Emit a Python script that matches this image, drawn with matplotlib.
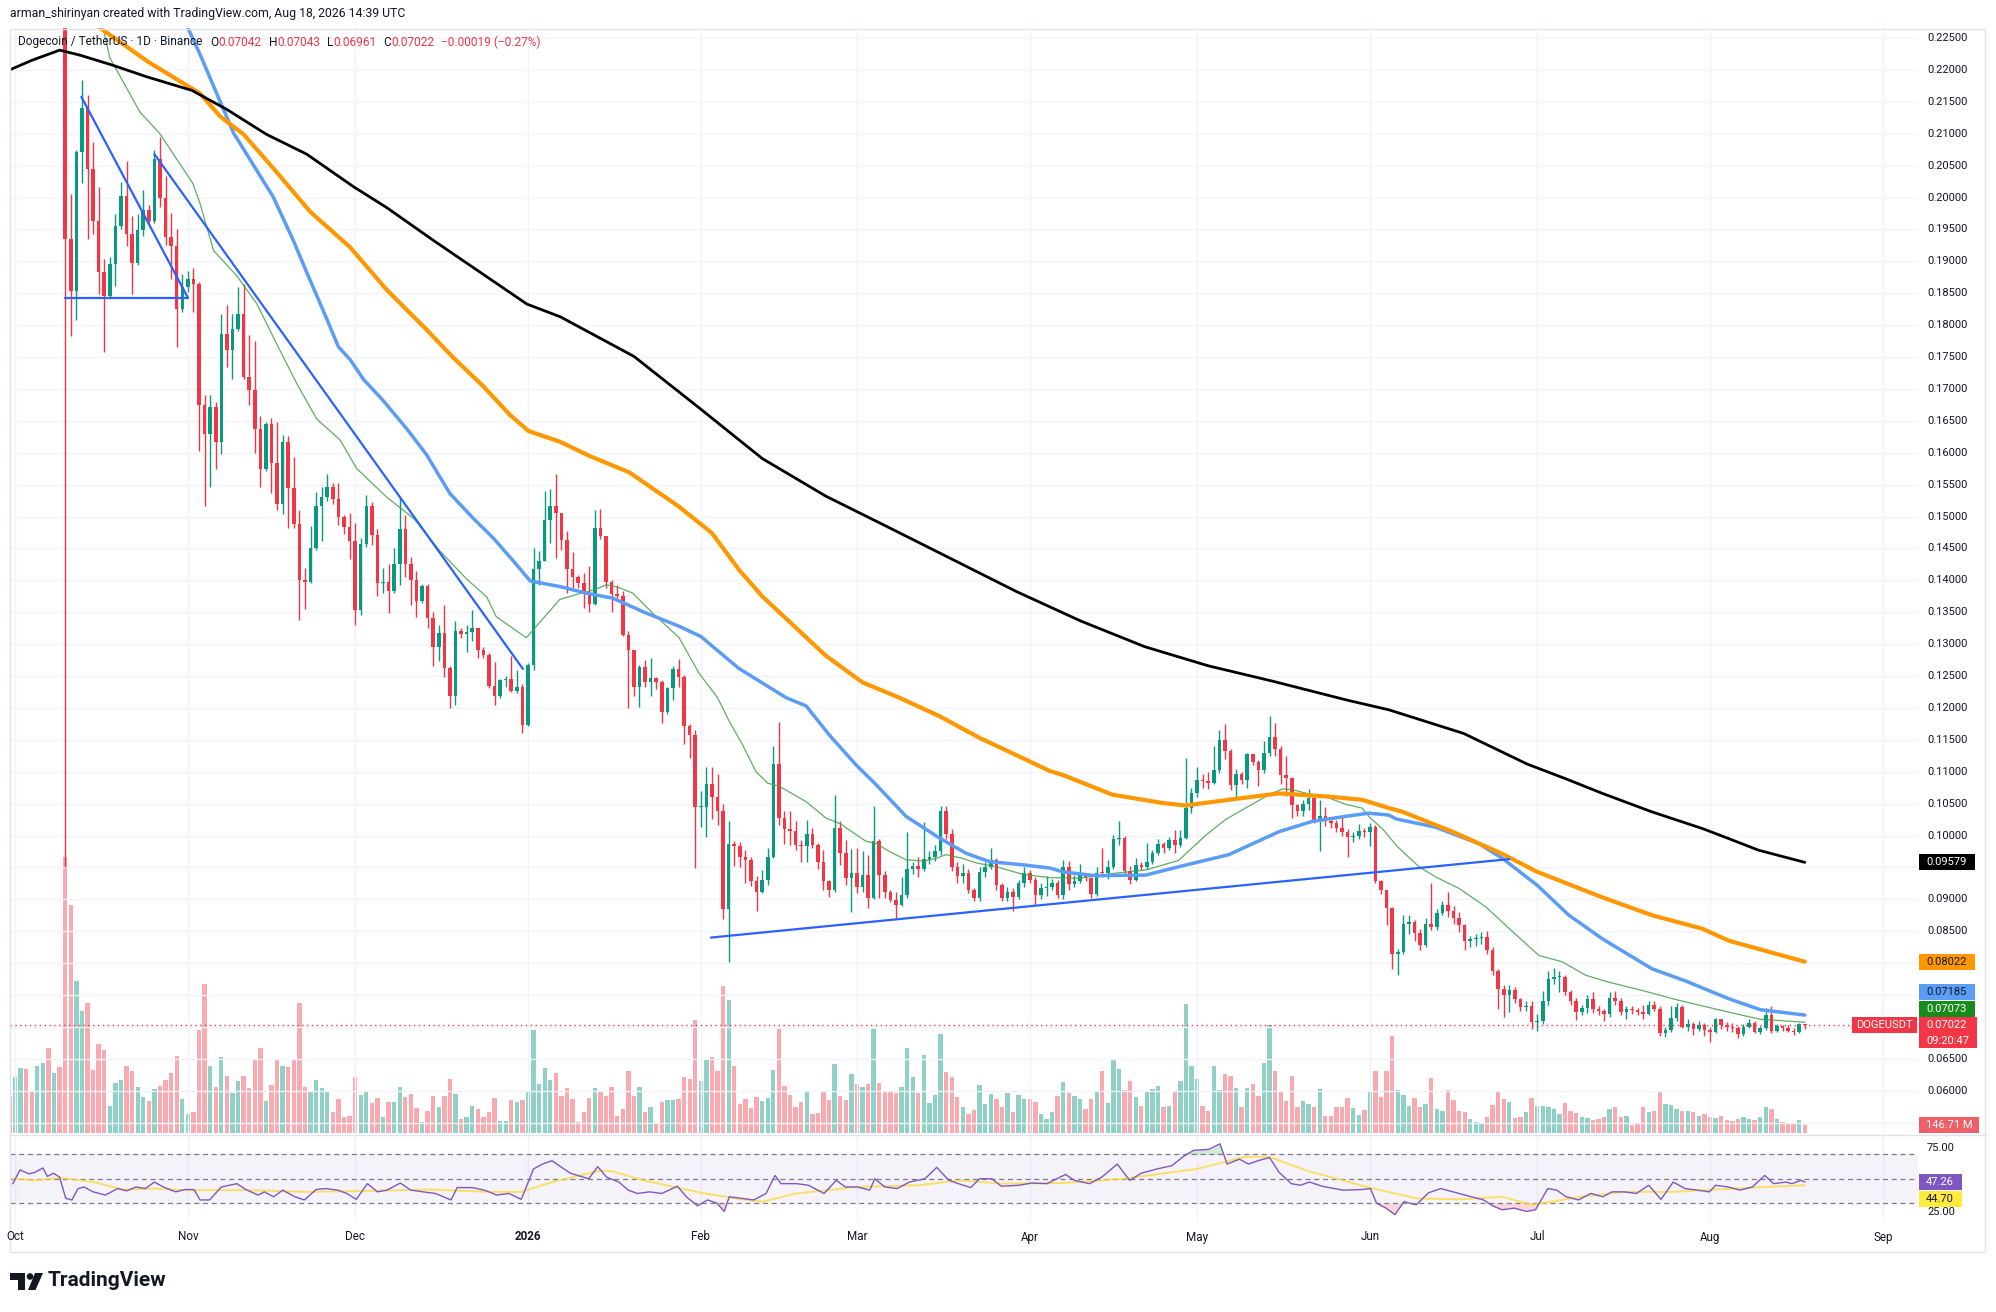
import numpy as np
import pandas as pd
import matplotlib
matplotlib.use("Agg")
import matplotlib.pyplot as plt
from matplotlib.colors import to_rgba
from matplotlib.patches import Rectangle, Polygon, Circle

plt.rcParams['font.family'] = ['Roboto', 'DejaVu Sans']

# ---------------- daily candles, Sep 30 2025 .. Aug 18 2026 ----------------
opens = [
    0.2380,
    # Oct
    0.2350, 0.2480, 0.2540, 0.2510, 0.2470, 0.2520, 0.2580, 0.2480, 0.2530, 0.2470,
    0.1935, 0.1853, 0.2071, 0.2140, 0.2044, 0.1963, 0.1884, 0.1845, 0.1896, 0.1955,
    0.2002, 0.1943, 0.1898, 0.1949, 0.1980, 0.1963, 0.2061, 0.2000, 0.1938, 0.1924, 0.1825,
    # Nov
    0.1859, 0.1873, 0.1865, 0.1674, 0.1629, 0.1671, 0.1617, 0.1786, 0.1761, 0.1794,
    0.1817, 0.1719, 0.1699, 0.1637, 0.1575, 0.1645, 0.1584, 0.1519, 0.1617, 0.1544,
    0.1488, 0.1401, 0.1398, 0.1450, 0.1516, 0.1530, 0.1547, 0.1527, 0.1499, 0.1483,
    # Dec
    0.1461, 0.1353, 0.1457, 0.1516, 0.1471, 0.1395, 0.1398, 0.1384, 0.1425, 0.1480,
    0.1425, 0.1401, 0.1367, 0.1391, 0.1341, 0.1296, 0.1317, 0.1262, 0.1219, 0.1320,
    0.1316, 0.1319, 0.1325, 0.1291, 0.1283, 0.1235, 0.1219, 0.1244, 0.1246, 0.1227, 0.1232,
    # Jan
    0.1173, 0.1268, 0.1418, 0.1431, 0.1495, 0.1517, 0.1505, 0.1463, 0.1417, 0.1405,
    0.1395, 0.1379, 0.1363, 0.1482, 0.1470, 0.1398, 0.1379, 0.1375, 0.1315, 0.1290,
    0.1232, 0.1264, 0.1241, 0.1247, 0.1241, 0.1193, 0.1231, 0.1261, 0.1248, 0.1172, 0.1158,
    # Feb
    0.1044, 0.1045, 0.1081, 0.1061, 0.1039, 0.0885, 0.0986, 0.0983, 0.0967, 0.0962,
    0.0928, 0.0912, 0.0930, 0.0967, 0.1112, 0.1028, 0.1010, 0.1007, 0.0985, 0.0984,
    0.1002, 0.0985, 0.0958, 0.0928, 0.0915, 0.1012, 0.0972, 0.0933,
    # Mar
    0.0942, 0.0920, 0.0938, 0.0902, 0.0991, 0.0938, 0.0912, 0.0899, 0.0891, 0.0906,
    0.0948, 0.0952, 0.0948, 0.0963, 0.0966, 0.0976, 0.1039, 0.1002, 0.0951, 0.0936,
    0.0942, 0.0915, 0.0902, 0.0943, 0.0951, 0.0962, 0.0922, 0.0902, 0.0911, 0.0904, 0.0925,
    # Apr
    0.0941, 0.0930, 0.0907, 0.0917, 0.0920, 0.0925, 0.0907, 0.0950, 0.0924, 0.0929,
    0.0938, 0.0933, 0.0908, 0.0942, 0.0941, 0.0950, 0.0995, 0.0996, 0.0945, 0.0930,
    0.0954, 0.0951, 0.0959, 0.0972, 0.0986, 0.0981, 0.0993, 0.0985, 0.0996, 0.1043,
    # May
    0.1066, 0.1087, 0.1085, 0.1083, 0.1103, 0.1150, 0.1132, 0.1079, 0.1096, 0.1087,
    0.1127, 0.1115, 0.1102, 0.1129, 0.1155, 0.1135, 0.1095, 0.1090, 0.1048, 0.1038,
    0.1049, 0.1059, 0.1025, 0.1031, 0.1023, 0.1019, 0.1011, 0.1006, 0.0997, 0.1000, 0.1007,
    # Jun
    0.1005, 0.1014, 0.0928, 0.0915, 0.0886, 0.0814, 0.0818, 0.0862, 0.0865, 0.0847,
    0.0828, 0.0862, 0.0857, 0.0879, 0.0891, 0.0881, 0.0870, 0.0859, 0.0835, 0.0837,
    0.0839, 0.0841, 0.0820, 0.0787, 0.0760, 0.0750, 0.0758, 0.0744, 0.0731, 0.0733,
    # Jul
    0.0707, 0.0710, 0.0741, 0.0775, 0.0778, 0.0779, 0.0754, 0.0741, 0.0724, 0.0729,
    0.0743, 0.0728, 0.0725, 0.0720, 0.0745, 0.0740, 0.0723, 0.0728, 0.0726, 0.0724,
    0.0720, 0.0734, 0.0728, 0.0691, 0.0695, 0.0714, 0.0731, 0.0700, 0.0705, 0.0696, 0.0703,
    # Aug
    0.0695, 0.0692, 0.0712, 0.0703, 0.0700, 0.0698, 0.0689, 0.0700, 0.0706, 0.0692,
    0.0698, 0.0718, 0.0694, 0.0701, 0.0698, 0.0694, 0.0692, 0.07042,
]

highs = [
    0.2400,
    0.2500, 0.2570, 0.2590, 0.2530, 0.2560, 0.2650, 0.2620, 0.2560, 0.2550, 0.2510,
    0.2005, 0.2075, 0.2184, 0.2160, 0.2087, 0.2016, 0.1904, 0.1907, 0.1974, 0.2025,
    0.2058, 0.1971, 0.1974, 0.2011, 0.1989, 0.2075, 0.2095, 0.2033, 0.1975, 0.1950, 0.1880,
    0.1885, 0.1890, 0.1868, 0.1690, 0.1690, 0.1680, 0.1817, 0.1831, 0.1817, 0.1859,
    0.1865, 0.1785, 0.1775, 0.1657, 0.1648, 0.1655, 0.1648, 0.1627, 0.1626, 0.1594,
    0.1510, 0.1420, 0.1485, 0.1538, 0.1547, 0.1567, 0.1553, 0.1553, 0.1502, 0.1505,
    0.1490, 0.1467, 0.1533, 0.1522, 0.1480, 0.1420, 0.1425, 0.1451, 0.1529, 0.1503,
    0.1436, 0.1414, 0.1394, 0.1394, 0.1350, 0.1330, 0.1362, 0.1265, 0.1336, 0.1326,
    0.1330, 0.1354, 0.1326, 0.1296, 0.1286, 0.1272, 0.1246, 0.1250, 0.1281, 0.1260, 0.1237,
    0.1270, 0.1451, 0.1446, 0.1540, 0.1543, 0.1566, 0.1505, 0.1477, 0.1444, 0.1409,
    0.1412, 0.1422, 0.1510, 0.1512, 0.1470, 0.1400, 0.1393, 0.1383, 0.1320, 0.1291,
    0.1268, 0.1275, 0.1278, 0.1249, 0.1243, 0.1233, 0.1265, 0.1277, 0.1252, 0.1174, 0.1165,
    0.1069, 0.1107, 0.1107, 0.1096, 0.1050, 0.1023, 0.0992, 0.0990, 0.0977, 0.0967,
    0.0936, 0.0946, 0.0980, 0.1140, 0.1178, 0.1038, 0.1038, 0.1023, 0.0993, 0.1025,
    0.1012, 0.0988, 0.0977, 0.0931, 0.1063, 0.1022, 0.0993, 0.0979,
    0.0980, 0.0975, 0.0969, 0.1046, 0.0994, 0.0944, 0.0915, 0.0912, 0.0935, 0.1006,
    0.0958, 0.0966, 0.1021, 0.0975, 0.0985, 0.1046, 0.1046, 0.1010, 0.0958, 0.0955,
    0.0948, 0.0918, 0.0950, 0.0958, 0.0981, 0.0965, 0.0925, 0.0920, 0.0918, 0.0930, 0.0950,
    0.0946, 0.0935, 0.0925, 0.0937, 0.0932, 0.0930, 0.0962, 0.0960, 0.0938, 0.0955,
    0.0942, 0.0935, 0.0950, 0.0981, 0.0962, 0.1001, 0.1023, 0.1000, 0.0952, 0.0965,
    0.0958, 0.0988, 0.0978, 0.0995, 0.0990, 0.0998, 0.1009, 0.1008, 0.1121, 0.1075,
    0.1107, 0.1097, 0.1099, 0.1140, 0.1166, 0.1174, 0.1135, 0.1105, 0.1100, 0.1130,
    0.1128, 0.1118, 0.1148, 0.1187, 0.1176, 0.1140, 0.1125, 0.1092, 0.1050, 0.1055,
    0.1073, 0.1060, 0.1055, 0.1045, 0.1028, 0.1025, 0.1030, 0.1010, 0.1006, 0.1018, 0.1012,
    0.1019, 0.1016, 0.0930, 0.0915, 0.0888, 0.0822, 0.0875, 0.0875, 0.0868, 0.0853,
    0.0870, 0.0926, 0.0885, 0.0898, 0.0911, 0.0890, 0.0880, 0.0862, 0.0842, 0.0845,
    0.0848, 0.0851, 0.0825, 0.0790, 0.0765, 0.0765, 0.0762, 0.0745, 0.0740, 0.0740,
    0.0720, 0.0757, 0.0787, 0.0793, 0.0788, 0.0782, 0.0758, 0.0745, 0.0735, 0.0750,
    0.0755, 0.0732, 0.0728, 0.0755, 0.0756, 0.0745, 0.0733, 0.0732, 0.0730, 0.0735,
    0.0740, 0.0740, 0.0732, 0.0700, 0.0732, 0.0738, 0.0735, 0.0712, 0.0708, 0.0709, 0.0706,
    0.0700, 0.0714, 0.0713, 0.0708, 0.0706, 0.0702, 0.0705, 0.0713, 0.0709, 0.0701,
    0.0729, 0.0732, 0.0704, 0.0703, 0.0703, 0.0698, 0.0706, 0.07043,
]

lows = [
    0.2330,
    0.2340, 0.2460, 0.2490, 0.2440, 0.2450, 0.2500, 0.2450, 0.2430, 0.2400, 0.0950,
    0.1783, 0.1808, 0.2022, 0.1935, 0.1943, 0.1848, 0.1758, 0.1843, 0.1862, 0.1950,
    0.1924, 0.1848, 0.1895, 0.1940, 0.1960, 0.1960, 0.1985, 0.1925, 0.1873, 0.1766, 0.1820,
    0.1852, 0.1820, 0.1603, 0.1516, 0.1547, 0.1575, 0.1598, 0.1735, 0.1715, 0.1790,
    0.1715, 0.1675, 0.1600, 0.1547, 0.1572, 0.1537, 0.1510, 0.1504, 0.1482, 0.1482,
    0.1338, 0.1355, 0.1395, 0.1448, 0.1462, 0.1525, 0.1520, 0.1486, 0.1472, 0.1433,
    0.1330, 0.1345, 0.1452, 0.1455, 0.1375, 0.1380, 0.1349, 0.1380, 0.1393, 0.1405,
    0.1362, 0.1343, 0.1365, 0.1325, 0.1265, 0.1273, 0.1248, 0.1200, 0.1205, 0.1309,
    0.1287, 0.1305, 0.1278, 0.1278, 0.1231, 0.1205, 0.1215, 0.1232, 0.1225, 0.1224, 0.1161,
    0.1172, 0.1260, 0.1392, 0.1430, 0.1459, 0.1435, 0.1448, 0.1380, 0.1383, 0.1388,
    0.1357, 0.1350, 0.1362, 0.1464, 0.1388, 0.1351, 0.1373, 0.1312, 0.1200, 0.1218,
    0.1202, 0.1232, 0.1219, 0.1229, 0.1176, 0.1191, 0.1213, 0.1232, 0.1144, 0.1121, 0.0949,
    0.1013, 0.0998, 0.1026, 0.1017, 0.0869, 0.0802, 0.0952, 0.0951, 0.0926, 0.0921,
    0.0882, 0.0910, 0.0922, 0.0964, 0.1017, 0.0986, 0.0985, 0.0977, 0.0958, 0.0958,
    0.0980, 0.0948, 0.0915, 0.0903, 0.0912, 0.0954, 0.0922, 0.0880,
    0.0910, 0.0911, 0.0887, 0.0900, 0.0902, 0.0902, 0.0895, 0.0870, 0.0890, 0.0902,
    0.0940, 0.0935, 0.0945, 0.0955, 0.0960, 0.0970, 0.0995, 0.0945, 0.0925, 0.0925,
    0.0910, 0.0897, 0.0898, 0.0935, 0.0948, 0.0915, 0.0897, 0.0898, 0.0882, 0.0900, 0.0920,
    0.0925, 0.0891, 0.0900, 0.0905, 0.0915, 0.0902, 0.0900, 0.0915, 0.0920, 0.0925,
    0.0928, 0.0902, 0.0905, 0.0935, 0.0932, 0.0948, 0.0985, 0.0940, 0.0924, 0.0928,
    0.0946, 0.0948, 0.0955, 0.0970, 0.0972, 0.0978, 0.0972, 0.0982, 0.0994, 0.1035,
    0.1060, 0.1075, 0.1073, 0.1080, 0.1098, 0.1120, 0.1072, 0.1059, 0.1080, 0.1075,
    0.1110, 0.1078, 0.1098, 0.1125, 0.1125, 0.1080, 0.1062, 0.1028, 0.1030, 0.1030,
    0.1040, 0.1020, 0.0976, 0.1015, 0.1012, 0.1005, 0.1000, 0.0967, 0.0990, 0.0995, 0.0998,
    0.0983, 0.0925, 0.0909, 0.0859, 0.0791, 0.0781, 0.0815, 0.0846, 0.0835, 0.0820,
    0.0825, 0.0852, 0.0852, 0.0875, 0.0872, 0.0862, 0.0849, 0.0820, 0.0826, 0.0827,
    0.0830, 0.0815, 0.0782, 0.0728, 0.0716, 0.0723, 0.0738, 0.0725, 0.0725, 0.0696,
    0.0693, 0.0705, 0.0735, 0.0768, 0.0755, 0.0750, 0.0735, 0.0711, 0.0718, 0.0722,
    0.0722, 0.0718, 0.0710, 0.0716, 0.0735, 0.0718, 0.0712, 0.0720, 0.0718, 0.0712,
    0.0718, 0.0725, 0.0685, 0.0684, 0.0692, 0.0710, 0.0698, 0.0694, 0.0688, 0.0693, 0.0686,
    0.0677, 0.0690, 0.0697, 0.0694, 0.0692, 0.0682, 0.0686, 0.0698, 0.0690, 0.0689,
    0.0695, 0.0690, 0.0692, 0.0694, 0.0692, 0.0687, 0.0690, 0.06961,
]

closes = [
    0.2350,
    0.2480, 0.2540, 0.2510, 0.2470, 0.2520, 0.2580, 0.2480, 0.2530, 0.2470, 0.1935,
    0.1853, 0.2071, 0.2140, 0.2044, 0.1963, 0.1884, 0.1845, 0.1896, 0.1955, 0.2002,
    0.1943, 0.1898, 0.1949, 0.1980, 0.1963, 0.2061, 0.2000, 0.1938, 0.1924, 0.1825, 0.1859,
    0.1873, 0.1865, 0.1674, 0.1629, 0.1671, 0.1617, 0.1786, 0.1761, 0.1794, 0.1817,
    0.1719, 0.1699, 0.1637, 0.1575, 0.1645, 0.1584, 0.1519, 0.1617, 0.1544, 0.1488,
    0.1401, 0.1398, 0.1450, 0.1516, 0.1530, 0.1547, 0.1527, 0.1499, 0.1483, 0.1461,
    0.1353, 0.1457, 0.1516, 0.1471, 0.1395, 0.1398, 0.1384, 0.1425, 0.1480, 0.1425,
    0.1401, 0.1367, 0.1391, 0.1341, 0.1296, 0.1317, 0.1262, 0.1219, 0.1320, 0.1316,
    0.1319, 0.1325, 0.1291, 0.1283, 0.1235, 0.1219, 0.1244, 0.1246, 0.1227, 0.1232, 0.1173,
    0.1268, 0.1418, 0.1431, 0.1495, 0.1517, 0.1505, 0.1463, 0.1417, 0.1405, 0.1395,
    0.1379, 0.1363, 0.1482, 0.1470, 0.1398, 0.1379, 0.1375, 0.1315, 0.1290, 0.1232,
    0.1264, 0.1241, 0.1247, 0.1241, 0.1193, 0.1231, 0.1261, 0.1248, 0.1172, 0.1158, 0.1044,
    0.1045, 0.1081, 0.1061, 0.1039, 0.0885, 0.0986, 0.0983, 0.0967, 0.0962, 0.0928,
    0.0912, 0.0930, 0.0967, 0.1112, 0.1028, 0.1010, 0.1007, 0.0985, 0.0984, 0.1002,
    0.0985, 0.0958, 0.0928, 0.0915, 0.1012, 0.0972, 0.0933, 0.0942,
    0.0920, 0.0938, 0.0902, 0.0991, 0.0938, 0.0912, 0.0899, 0.0891, 0.0906, 0.0948,
    0.0952, 0.0948, 0.0963, 0.0966, 0.0976, 0.1039, 0.1002, 0.0951, 0.0936, 0.0942,
    0.0915, 0.0902, 0.0943, 0.0951, 0.0962, 0.0922, 0.0902, 0.0911, 0.0904, 0.0925, 0.0941,
    0.0930, 0.0907, 0.0917, 0.0920, 0.0925, 0.0907, 0.0950, 0.0924, 0.0929, 0.0938,
    0.0933, 0.0908, 0.0942, 0.0941, 0.0950, 0.0995, 0.0996, 0.0945, 0.0930, 0.0954,
    0.0951, 0.0959, 0.0972, 0.0986, 0.0981, 0.0993, 0.0985, 0.0996, 0.1043, 0.1066,
    0.1087, 0.1085, 0.1083, 0.1103, 0.1150, 0.1132, 0.1079, 0.1096, 0.1087, 0.1127,
    0.1115, 0.1102, 0.1129, 0.1155, 0.1135, 0.1095, 0.1090, 0.1048, 0.1038, 0.1049,
    0.1059, 0.1025, 0.1031, 0.1023, 0.1019, 0.1011, 0.1006, 0.0997, 0.1000, 0.1007, 0.1005,
    0.1014, 0.0928, 0.0915, 0.0886, 0.0814, 0.0818, 0.0862, 0.0865, 0.0847, 0.0828,
    0.0862, 0.0857, 0.0879, 0.0891, 0.0881, 0.0870, 0.0859, 0.0835, 0.0837, 0.0839,
    0.0841, 0.0820, 0.0787, 0.0760, 0.0750, 0.0758, 0.0744, 0.0731, 0.0733, 0.0707,
    0.0710, 0.0741, 0.0775, 0.0778, 0.0779, 0.0754, 0.0741, 0.0724, 0.0729, 0.0743,
    0.0728, 0.0725, 0.0720, 0.0745, 0.0740, 0.0723, 0.0728, 0.0726, 0.0724, 0.0720,
    0.0734, 0.0728, 0.0691, 0.0695, 0.0714, 0.0731, 0.0700, 0.0705, 0.0696, 0.0703, 0.0695,
    0.0692, 0.0712, 0.0703, 0.0700, 0.0698, 0.0689, 0.0700, 0.0706, 0.0692, 0.0698,
    0.0718, 0.0694, 0.0701, 0.0698, 0.0694, 0.0692, 0.07042, 0.07022,
]

# volume in millions of DOGE
volumes = [
    643,
    985, 1151, 1133, 738, 1192, 1245, 1510, 1056, 1174, 4879,
    4024, 2679, 2165, 2295, 1121, 1575, 1475, 484, 879, 938,
    1192, 1103, 808, 643, 572, 773, 838, 938, 1056, 1369, 596,
    336, 366, 1823, 2637, 1192, 820, 1339, 1015, 702, 926,
    1003, 797, 1298, 1505, 572, 844, 1310, 1192, 1162, 1310,
    2301, 820, 720, 938, 797, 720, 378, 602, 277, 307,
    997, 673, 749, 531, 614, 277, 543, 543, 820, 631,
    690, 443, 201, 384, 661, 466, 661, 956, 690, 248,
    277, 484, 425, 277, 366, 620, 218, 207, 584, 543, 584,
    738, 1823, 867, 1151, 938, 1056, 661, 797, 596, 201,
    366, 614, 797, 749, 661, 808, 307, 419, 1103, 661,
    820, 366, 454, 159, 543, 590, 584, 596, 985, 956, 2000,
    926, 1310, 1339, 1103, 2590, 2354, 1192, 513, 602, 437,
    643, 561, 614, 1121, 1841, 838, 679, 466, 543, 732,
    336, 348, 732, 584, 1221, 655, 584, 1044,
    867, 808, 867, 1841, 885, 749, 749, 702, 820, 1505,
    985, 708, 1387, 537, 673, 1741, 1074, 997, 631, 454,
    336, 407, 856, 513, 690, 602, 454, 702, 378, 679, 602,
    602, 543, 336, 248, 366, 661, 897, 702, 661, 602,
    425, 602, 749, 1092, 531, 1310, 1133, 761, 915, 631,
    484, 720, 779, 832, 454, 484, 720, 926, 2283, 1192,
    950, 478, 395, 1192, 761, 1044, 1003, 797, 454, 797,
    867, 661, 1239, 1900, 1103, 749, 572, 1009, 454, 572,
    513, 454, 773, 307, 295, 454, 466, 620, 443, 319, 407,
    720, 1092, 631, 1103, 1723, 761, 679, 472, 620, 454,
    513, 974, 425, 395, 761, 590, 395, 366, 248, 189,
    159, 289, 502, 738, 602, 543, 266, 277, 378, 614,
    484, 484, 454, 425, 336, 525, 384, 354, 277, 260,
    230, 248, 277, 425, 466, 289, 295, 148, 159, 466,
    366, 395, 720, 513, 502, 425, 395, 395, 366, 307, 336,
    277, 260, 295, 230, 218, 248, 277, 248, 230, 277,
    466, 425, 248, 189, 159, 171, 230, 146.71,
]

# ---------------- moving averages (day 0 = Oct 1 2025) ----------------
ma200_day = [-1.5, 3, 8, 11.7, 17.3, 23.7, 31.7, 38, 45.1, 52.3, 60.7, 66.7, 75, 83.4, 91.8,
             97.8, 111, 122.6, 134, 145.4, 156.9, 168.3, 179.7, 191.2, 202.6, 214, 225.5,
             239, 246.4, 259.8, 271.2, 278.1, 284.7, 293.6, 302.6, 307.4, 312.7, 321]
ma200_val = [0.2198, 0.2215, 0.2231, 0.2223, 0.2208, 0.2189, 0.2168, 0.2138, 0.2099, 0.2068,
             0.2017, 0.1984, 0.1933, 0.1883, 0.1833, 0.1813, 0.1751, 0.1671, 0.1591, 0.1532,
             0.1482, 0.1432, 0.1382, 0.1336, 0.1296, 0.1266, 0.1242, 0.1212, 0.1197, 0.1160,
             0.1112, 0.1089, 0.1066, 0.1037, 0.1011, 0.0995, 0.0977, 0.09579]

ma100_day = [12, 15.2, 24, 33.2, 36.8, 41, 46.9, 52.9, 60.1, 66.7, 73.8, 78.6, 84, 88.8, 92.1,
             97.8, 103, 110.2, 119, 125, 129.8, 134, 145.4, 152, 158.6, 165.8, 173, 180.8,
             185.6, 187.9, 196.8, 205.8, 209.9, 217.7, 226.7, 235.6, 241.6, 246.4, 248.9,
             257.8, 266.8, 273, 284.7, 293.6, 302.6, 307.4, 321]
ma100_val = [0.2300, 0.2266, 0.2212, 0.2163, 0.2127, 0.2099, 0.2040, 0.1978, 0.1922, 0.1855,
             0.1793, 0.1749, 0.1704, 0.1659, 0.1634, 0.1617, 0.1595, 0.1569, 0.1516, 0.1474,
             0.1417, 0.1375, 0.1282, 0.1240, 0.1216, 0.1187, 0.1153, 0.1121, 0.1101, 0.1095,
             0.1064, 0.1051, 0.1047, 0.1056, 0.1066, 0.1061, 0.1056, 0.1043, 0.1037, 0.1006,
             0.0971, 0.0943, 0.0903, 0.0875, 0.0854, 0.0835, 0.08022]

ma50_day = [29, 31, 33.2, 39.2, 46.3, 49.9, 52.3, 55.9, 58, 60.1, 62.5, 66.1, 70.3, 73.8, 78,
            82.2, 85.8, 89.4, 92.4, 97.8, 102.4, 107.2, 113.1, 119.1, 123, 129.8, 138.3, 141.9,
            146, 150.8, 154.4, 159.8, 165.8, 170.6, 174.8, 180.8, 185.6, 187.9, 193.8, 202.8,
            208.7, 217.7, 226.7, 232.6, 238.6, 242.8, 246.4, 247.7, 254.8, 262.6, 266.8, 273,
            278.7, 284.7, 293.6, 299.6, 307.4, 313, 321]
ma50_val = [0.2320, 0.2266, 0.2224, 0.2101, 0.2001, 0.1933, 0.1883, 0.1810, 0.1766, 0.1746,
            0.1715, 0.1681, 0.1637, 0.1597, 0.1536, 0.1497, 0.1466, 0.1430, 0.1399, 0.1390,
            0.1380, 0.1372, 0.1349, 0.1328, 0.1312, 0.1262, 0.1216, 0.1203, 0.1158, 0.1111,
            0.1080, 0.1030, 0.0996, 0.0972, 0.0959, 0.0954, 0.0949, 0.0943, 0.0937, 0.0938,
            0.0951, 0.0970, 0.1006, 0.1022, 0.1030, 0.1035, 0.1032, 0.1026, 0.1013, 0.0987,
            0.0964, 0.0922, 0.0875, 0.0838, 0.0791, 0.0772, 0.0744, 0.0727, 0.07185]

ma20_day = [14, 15.8, 17, 22.4, 25.9, 31.9, 33.2, 35.6, 39.8, 43.4, 46.9, 50.5, 54.1, 58.3,
            61.3, 66.7, 71.5, 76.2, 81, 84.6, 86.3, 91.7, 93.5, 97.7, 101.2, 104.2, 106, 107.8,
            110.8, 114.3, 119.1, 122.7, 126, 128.1, 130.5, 132.9, 135, 137.1, 141.9, 145.5,
            147.9, 152.6, 154.4, 156.8, 159.8, 162.8, 165.2, 167, 170, 172.4, 176, 180.8, 185.6,
            190.8, 197.4, 202.8, 208.7, 213.5, 217.1, 220.7, 224.9, 227.3, 229, 232.6, 235.6,
            238.6, 241.6, 243, 245.3, 248, 251.8, 254.8, 259, 263.8, 268, 273.3, 277.5, 281.7,
            285.9, 291.9, 297.8, 302.6, 307.4, 313, 321]
ma20_val = [0.2295, 0.2266, 0.2219, 0.2134, 0.2101, 0.2022, 0.1990, 0.1917, 0.1877, 0.1833,
            0.1771, 0.1709, 0.1653, 0.1620, 0.1575, 0.1530, 0.1497, 0.1446, 0.1402, 0.1374,
            0.1343, 0.1310, 0.1328, 0.1370, 0.1379, 0.1386, 0.1393, 0.1390, 0.1380, 0.1349,
            0.1310, 0.1254, 0.1216, 0.1179, 0.1142, 0.1100, 0.1082, 0.1077, 0.1053, 0.1027,
            0.1019, 0.0991, 0.0988, 0.0975, 0.0962, 0.0960, 0.0964, 0.0970, 0.0964, 0.0957,
            0.0951, 0.0939, 0.0934, 0.0933, 0.0941, 0.0946, 0.0961, 0.1000, 0.1025, 0.1043,
            0.1064, 0.1073, 0.1072, 0.1064, 0.1059, 0.1049, 0.1043, 0.1028, 0.1010, 0.0982,
            0.0951, 0.0935, 0.0917, 0.0888, 0.0854, 0.0812, 0.0802, 0.0781, 0.0770, 0.0757,
            0.0743, 0.0733, 0.0723, 0.0712, 0.07073]

# hand-drawn trend lines: ((day, price), (day, price))
trend_lines = [
    ((8.9, 0.1843), (31.0, 0.1843)),
    ((11.9, 0.2158), (31.0, 0.1843)),
    ((25.0, 0.2068), (91.1, 0.1261)),
    ((124.8, 0.0840), (268.0, 0.0963)),
]

# RSI(14) and its moving average
rsi_day = [-0.4, 0.9, 2.5, 3.6, 5, 5.8, 6.9, 8, 9.1, 10.2, 11.3, 12.4, 14, 16.2, 18.4, 20, 21.7,
           23.4, 25, 26.6, 28.8, 30.5, 32.1, 33.2, 34.9, 37, 39.8, 41.4, 43.6, 44.7, 46.4, 48,
           50.2, 51.9, 54, 55.7, 57.9, 59.5, 61.2, 63.2, 65, 66.7, 69.1, 71, 73.2, 75.4, 78.2,
           79.3, 82, 84.2, 86.4, 88.6, 90.8, 93, 94.6, 96.3, 97.6, 99.6, 102.9, 104.5, 106.1,
           108.3, 110, 111.6, 113.8, 116, 118.8, 120.4, 122.4, 124.2, 125.9, 127.2, 128.1,
           130.3, 132.5, 134.7, 136.3, 137.4, 140.2, 142.3, 145.1, 147.3, 148.9, 151.1, 153.3,
           154.2, 156, 158.2, 160.4, 163.2, 165.3, 167.5, 169.2, 171.4, 173, 175.2, 176.9,
           180.1, 182.3, 185.1, 188.4, 190, 192.7, 194.9, 197.7, 199.9, 202, 204.8, 207.5,
           209.7, 211.4, 214.1, 216.1, 217.4, 219.6, 221.2, 222.9, 225, 226.7, 228.9, 230.5,
           232.2, 234.4, 238.2, 241.5, 243.1, 244.2, 245.9, 247.5, 249.1, 251.3, 253.5, 255.7,
           257.9, 261.2, 263.4, 265, 266.7, 268.9, 271.1, 272.7, 274.9, 276.5, 278.2, 280.4,
           282.6, 284.8, 286.4, 288.6, 290.8, 293, 295.2, 297.4, 299.5, 301.7, 303.9, 305,
           307.2, 309.4, 311.6, 313.8, 315.4, 317.6, 318.7, 320.3, 321]
rsi_val = [46, 57.2, 54, 55.3, 58.8, 51.9, 54.5, 51.3, 34, 32.7, 42, 43.3, 39.3, 36.7, 42, 40.1,
           43.3, 42, 47.3, 43.3, 39.3, 41.2, 41.2, 32.7, 32.7, 43.3, 46, 41.2, 36.7, 39.3, 35.3,
           40.7, 35.3, 32.7, 41.2, 42, 40.7, 38, 33.2, 46, 39.3, 40.7, 46.5, 40.7, 39.3, 38,
           32.7, 42.8, 42.8, 40.7, 36.7, 38, 33.2, 58, 62, 64.7, 60.7, 54.5, 50, 59.9, 51.3,
           47.3, 40.7, 38, 39.3, 38, 43.9, 35.3, 27.9, 32.7, 30, 23.3, 35.3, 34, 32.7, 38,
           52.7, 46, 46, 44.7, 38, 48.7, 43.3, 43.3, 40.7, 50, 43.3, 42, 47.3, 50, 59.3, 48.7,
           46, 42.8, 50, 50, 43.9, 44.7, 46.5, 46, 53.5, 48.7, 46, 51.3, 62, 48.7, 54.5, 58,
           60.7, 68.7, 73.2, 74, 78.5, 62, 66, 62, 64.7, 67.3, 55.3, 46, 44.7, 47.3, 43.9,
           40.7, 41.2, 42, 30, 26, 20.7, 31.3, 28.7, 38.5, 42, 39.3, 35.3, 32.7, 27.9, 24.7,
           26, 23.3, 24.7, 42, 40.7, 35.3, 32.7, 38, 35.3, 39.3, 39.3, 38, 44.7, 33.2, 47.3,
           42, 40.7, 39.3, 44.7, 43.3, 40.7, 43.3, 52.7, 46, 47.3, 46, 48.7, 47.26]

rsi_ma_day = [-0.4, 3.5, 8.2, 14, 19.5, 25, 30.5, 41.4, 52.4, 63.4, 74.3, 85.3, 90.8, 96.3, 105,
              107.2, 112.7, 118.2, 123.7, 129.2, 134.1, 140.1, 151.1, 162, 169.5, 176.9, 187.8,
              198.8, 211.9, 220.6, 225, 231.6, 242.5, 251.3, 259, 266.7, 272.1, 280.9, 288.6,
              297.4, 308.3, 321]
rsi_ma_val = [50, 48.7, 50.8, 47.3, 41.2, 42, 40.7, 40.7, 39.3, 40.1, 41.2, 39.3, 39.3, 47.3,
              56.7, 56, 48.7, 43.3, 38, 34, 31.3, 38, 43.3, 44.7, 48.7, 46, 46.5, 50, 58, 67.9,
              67.9, 56.7, 43.3, 34, 33.2, 35.3, 28.7, 35.3, 39.3, 39.3, 42, 44.7]

grid_levels = [0.225, 0.220, 0.215, 0.210, 0.205, 0.200, 0.195, 0.190, 0.185, 0.180, 0.175,
               0.170, 0.165, 0.160, 0.155, 0.150, 0.145, 0.140, 0.135, 0.130, 0.125, 0.120,
               0.115, 0.110, 0.105, 0.100, 0.095, 0.090, 0.085, 0.080, 0.075, 0.070, 0.065,
               0.060, 0.055]
# scale labels that are not covered by the coloured value tags
price_labels = [0.225, 0.220, 0.215, 0.210, 0.205, 0.200, 0.195, 0.190, 0.185, 0.180, 0.175,
                0.170, 0.165, 0.160, 0.155, 0.150, 0.145, 0.140, 0.135, 0.130, 0.125, 0.120,
                0.115, 0.110, 0.105, 0.100, 0.090, 0.085, 0.065, 0.060]
month_labels = ['Oct', 'Nov', 'Dec', '2026', 'Feb', 'Mar', 'Apr', 'May', 'Jun', 'Jul', 'Aug', 'Sep']

GREEN = '#089981'
RED = '#f23645'
TXT = '#131722'
GRID = '#f0f3fa'
BORDER = '#e0e3eb'

dates = pd.date_range('2025-09-30', '2026-08-18', freq='D')
origin = pd.Timestamp('2025-10-01')
x = np.asarray((dates - origin).days, dtype=float)
months = pd.date_range('2025-10-01', '2026-09-01', freq='MS')
mx = np.asarray((months - origin).days, dtype=float)

o = np.array(opens); h = np.array(highs); l = np.array(lows); c = np.array(closes)
assert len(x) == len(o) == len(h) == len(l) == len(c) == len(volumes)

# ---------------- figure layout (pixel boxes) ----------------
W, H = 1996, 1312
fig = plt.figure(figsize=(W / 100, H / 100), dpi=100)


def box(left, top, right, bottom):
    return [left / W, 1 - bottom / H, (right - left) / W, (bottom - top) / H]


ax = fig.add_axes(box(10, 28, 1918, 1133))
axv = ax.twinx()
ax.set_zorder(axv.get_zorder() + 1)
ax.patch.set_visible(False)
rs = fig.add_axes(box(10, 1136, 1918, 1222), sharex=ax)

for a in (ax, axv, rs):
    for s in a.spines.values():
        s.set_visible(False)
    a.tick_params(left=False, right=False, bottom=False, top=False,
                  labelleft=False, labelright=False, labelbottom=False)

ax.set_xlim(-0.9, 341.3)
ax.set_ylim(0.05337, 0.22657)
axv.set_ylim(0, 19530)
rs.set_ylim(14.7, 84.9)

# grid
for p in grid_levels:
    ax.axhline(p, color=GRID, lw=1, zorder=0)
for m in mx:
    ax.axvline(m, color=GRID, lw=1, zorder=0)
    rs.axvline(m, color=GRID, lw=1, zorder=0)

# volume
up = c >= o
vcol = [to_rgba(GREEN, 0.45) if u else to_rgba(RED, 0.42) for u in up]
axv.bar(x, volumes, width=0.78, color=vcol, lw=0)

# candles
ccol = np.where(up, GREEN, RED)
ax.vlines(x, l, h, colors=ccol, lw=1.0, zorder=3)
ax.bar(x, np.maximum(np.abs(c - o), 0.00016), bottom=np.minimum(o, c), width=0.64,
       color=ccol, lw=0, zorder=4)

# moving averages
ax.plot(ma20_day, ma20_val, color='#43a047', lw=0.9, alpha=0.85, zorder=5)
ax.plot(ma50_day, ma50_val, color='#5b9cf6', lw=2.5, zorder=5, solid_capstyle='round',
        solid_joinstyle='round')
ax.plot(ma100_day, ma100_val, color='#ff9800', lw=3.0, zorder=5, solid_capstyle='round',
        solid_joinstyle='round')
ax.plot(ma200_day, ma200_val, color='#000000', lw=2.0, zorder=5, solid_capstyle='round',
        solid_joinstyle='round')

for (x0, y0), (x1, y1) in trend_lines:
    ax.plot([x0, x1], [y0, y1], color='#2962ff', lw=1.6, zorder=6, solid_capstyle='round')

ax.axhline(closes[-1], color=RED, lw=1, ls=(0, (1, 2.5)), zorder=5)

# RSI pane
rs.axhspan(30, 70, color='#7e57c2', alpha=0.07, lw=0)
for lev in (70, 50, 30):
    rs.axhline(lev, color='#787b86', lw=0.9, ls=(0, (4, 3)))
rd = np.array(rsi_day); rv = np.array(rsi_val)
rs.fill_between(rd, rv, 70, where=rv > 70, interpolate=True, color='#4caf50', alpha=0.25, lw=0)
rs.fill_between(rd, rv, 30, where=rv < 30, interpolate=True, color='#f23645', alpha=0.2, lw=0)
rs.plot(rsi_ma_day, rsi_ma_val, color='#fdd835', lw=1.4, alpha=0.75)
rs.plot(rd, rv, color='#7e57c2', lw=1.0)

# ---------------- overlay in pixel coordinates ----------------
ov = fig.add_axes([0, 0, 1, 1])
ov.set_xlim(0, W)
ov.set_ylim(H, 0)
ov.axis('off')
ov.patch.set_visible(False)
ov.set_zorder(20)
inv = ov.transData.inverted()


def ypix(a, v):
    return inv.transform(a.transData.transform((0, v)))[1]


def xpix(a, v):
    return inv.transform(a.transData.transform((v, 0.1)))[0]


ov.add_patch(Rectangle((10.5, 28.5), 1975, 1223, fill=False, ec=BORDER, lw=1))
ov.plot([10, 1986], [1134.5, 1134.5], color=BORDER, lw=1)

for p in price_labels:
    ov.text(1927, ypix(ax, p), f'{p:.5f}', fontsize=8, color=TXT, va='center', ha='left', zorder=1)
ov.text(1927, ypix(rs, 75), '75.00', fontsize=8, color=TXT, va='center', ha='left', zorder=1)
ov.text(1927, ypix(rs, 25) + 3, '25.00', fontsize=8, color=TXT, va='center', ha='left', zorder=1)


def tag(x0, x1, yc, hgt, lines, face, fg, center=False):
    ov.add_patch(Rectangle((x0, yc - hgt / 2), x1 - x0, hgt, fc=face, ec='none', zorder=2))
    n = len(lines)
    for i, s in enumerate(lines):
        yy = yc - hgt / 2 + hgt * (i + 0.5) / n
        if center:
            ov.text((x0 + x1) / 2, yy, s, fontsize=8, color=fg, ha='center', va='center', zorder=3)
        else:
            ov.text(x0 + 7, yy, s, fontsize=8, color=fg, ha='left', va='center', zorder=3)


py_last = ypix(ax, closes[-1])
tag(1919, 1975, ypix(ax, ma200_val[-1]), 16, ['0.09579'], '#000000', 'white')
tag(1919, 1975, ypix(ax, ma100_val[-1]), 16, ['0.08022'], '#ff9800', TXT)
tag(1919, 1975, py_last - 33.5, 16, ['0.07185'], '#5b9cf6', TXT)
tag(1919, 1975, py_last - 16.5, 16, ['0.07073'], '#178c1b', 'white')
tag(1919, 1977, py_last + 7.5, 31, ['0.07022', '09:20:47'], RED, 'white')
tag(1852, 1917, py_last, 16, ['DOGEUSDT'], RED, 'white', center=True)
tag(1919, 1979, 1125, 16, ['146.71 M'], '#ef5f69', 'white')
py_rsi = ypix(rs, rsi_val[-1])
tag(1919, 1962, py_rsi, 16, ['47.26'], '#7e57c2', 'white')
tag(1919, 1962, py_rsi + 17, 16, ['44.70'], '#ffeb3b', TXT)

# month labels
for m, lab in zip(mx, month_labels):
    ov.text(xpix(ax, m), 1237, lab, fontsize=8.4, color=TXT, ha='center', va='center',
            fontweight='bold' if lab == '2026' else 'normal')

# header and legend line
ov.text(10, 14, 'arman_shirinyan created with TradingView.com, Aug 18, 2026 14:39 UTC',
        fontsize=8.8, color=TXT, va='center', ha='left')
renderer = fig.canvas.get_renderer()
pieces = [('Dogecoin / TetherUS \u00b7 1D \u00b7 Binance', TXT, 8), ('O', TXT, 0),
          ('0.07042', RED, 7), ('H', TXT, 0), ('0.07043', RED, 7), ('L', TXT, 0),
          ('0.06961', RED, 7), ('C', TXT, 0), ('0.07022', RED, 7),
          ('\u22120.00019 (\u22120.27%)', RED, 0)]
xc = 18
for s, colr, gap in pieces:
    t = ov.text(xc, 42, s, fontsize=8.6, color=colr, va='center', ha='left')
    xc += t.get_window_extent(renderer=renderer).width + gap

# TradingView logo
ov.add_patch(Polygon([(10, 1273), (25, 1273), (25, 1290), (18, 1290), (18, 1280), (10, 1280)],
                     closed=True, fc=TXT, ec='none'))
ov.add_patch(Circle((30, 1276.5), 3.3, fc=TXT, ec='none'))
ov.add_patch(Polygon([(35, 1273), (43, 1273), (35.5, 1290), (28, 1290)], closed=True, fc=TXT, ec='none'))
ov.text(48, 1281, 'TradingView', fontsize=15, fontweight='bold', color=TXT, va='center', ha='left')

fig.savefig('out.png', dpi=100, facecolor='white')
